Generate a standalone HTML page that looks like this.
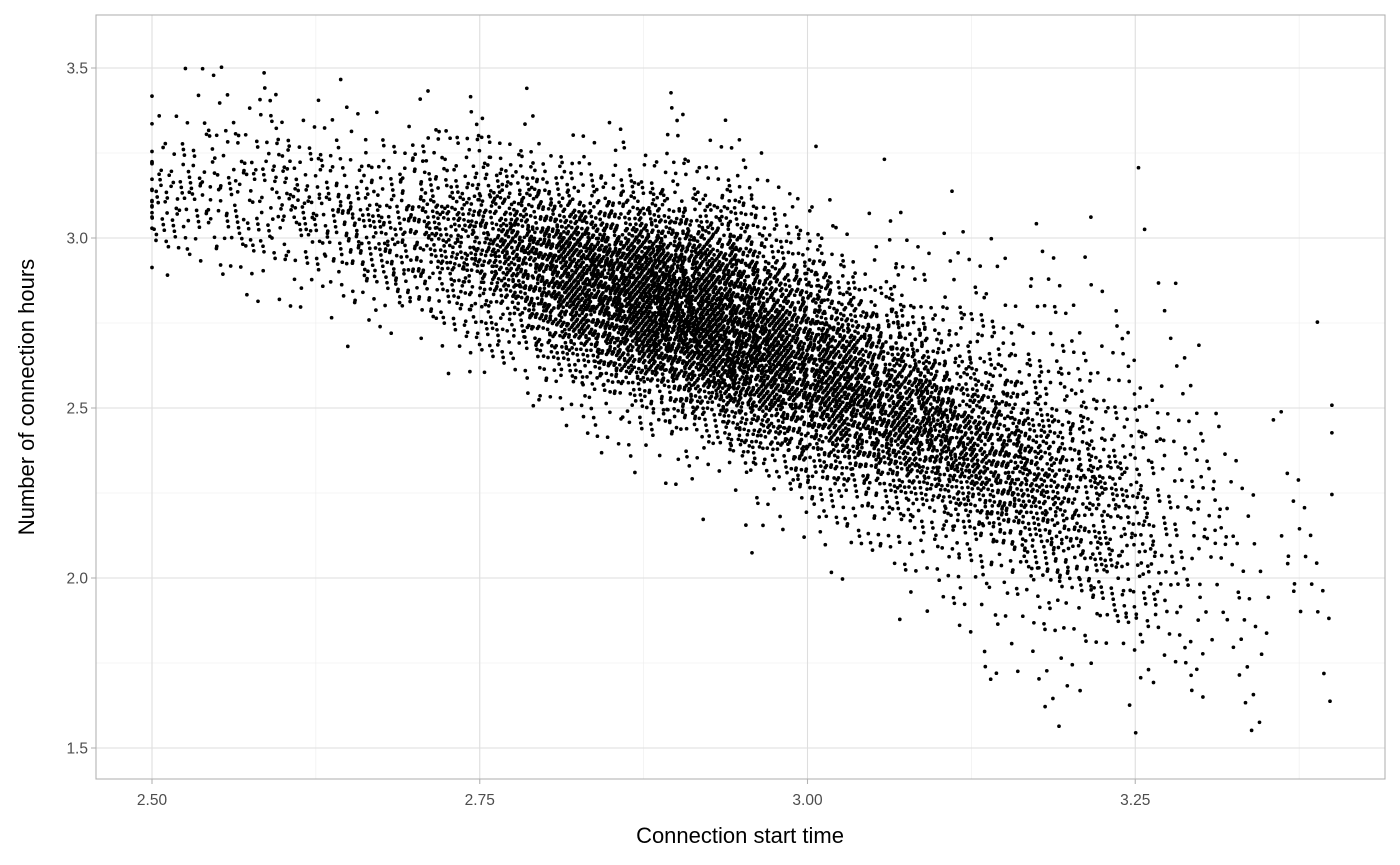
<!DOCTYPE html>
<html><head><meta charset="utf-8"><style>
html,body{margin:0;padding:0;background:#fff;}
svg{display:block;font-family:"Liberation Sans",sans-serif;}
</style></head><body>
<svg id="chart" width="1400" height="865" viewBox="0 0 1400 865" xmlns="http://www.w3.org/2000/svg">
<rect x="96" y="15" width="1289" height="764" fill="#fff"/>
<g id="grid"></g>
<g id="points"></g>
<rect x="96" y="15" width="1289" height="764" fill="none" stroke="#b3b3b3" stroke-width="1.1"/>
<g id="axes"></g>
<text x="740" y="843" text-anchor="middle" font-size="22" fill="#000">Connection start time</text>
<text transform="translate(34,397) rotate(-90)" text-anchor="middle" font-size="22" fill="#000">Number of connection hours</text>
</svg>
<script>
// x-bins of width 0.05 starting at 2.50; y-bins of width 0.1 starting at 1.5
const xBinStart = [2.50,2.55,2.60,2.65,2.70,2.75,2.80,2.85,2.90,2.95,3.00,3.05,3.10,3.15,3.20,3.25,3.30,3.35];
const yStartIdx = [14,13,13,12,11,10,9,8,7,6,5,4,2,1,0,1,0,0];
const binCounts = [
 [8,40,40,22,8,4,1],
 [3,15,35,30,18,7,3],
 [8,25,45,35,18,8,3],
 [5,25,50,60,40,15,5],
 [3,15,45,80,90,50,18,5],
 [3,15,50,110,160,120,55,15,3],
 [5,18,75,190,290,260,130,40,10,3,1],
 [5,18,65,180,330,380,270,110,32,8,2],
 [3,14,50,140,290,380,320,190,70,25,8,2],
 [3,12,38,110,230,290,250,150,65,25,8,3],
 [3,12,36,95,190,240,200,120,45,15,5,2],
 [2,9,24,65,145,200,180,100,42,15,6,3],
 [2,4,8,18,48,100,160,140,90,42,20,8,4,2],
 [3,5,8,17,40,72,110,115,78,42,20,8,4,3,2],
 [2,3,5,12,27,50,62,65,48,25,12,6,3,2,1,1,1],
 [3,6,10,18,22,22,20,15,10,5,3,2,2,1],
 [1,2,3,6,8,8,8,6,4,3,1,1],
 [1,2,2,3,4,3,3,3,3,2,0,0,1]
];
const xTicks = [2.50,2.75,3.00,3.25];
const xTickLabels = ["2.50","2.75","3.00","3.25"];
const yTicks = [1.5,2.0,2.5,3.0,3.5];
const yTickLabels = ["1.5","2.0","2.5","3.0","3.5"];
const xMinor = [2.625,2.875,3.125,3.375];
const yMinor = [1.75,2.25,2.75,3.25];

const NS="http://www.w3.org/2000/svg";
const X0=96,X1=1385,Y0=15,Y1=779;
function sx(v){return 152+(v-2.5)*1311;}
function sy(v){return 748-(v-1.5)*340;}
function el(tag,attrs,parent){const e=document.createElementNS(NS,tag);for(const k in attrs)e.setAttribute(k,attrs[k]);parent.appendChild(e);return e;}

const grid=document.getElementById('grid');
xMinor.forEach(v=>{const l=el('line',{x1:sx(v),x2:sx(v),y1:Y0,y2:Y1,stroke:'#ededed','stroke-width':0.6},grid);

});
yMinor.forEach(v=>{const l=el('line',{x1:X0,x2:X1,y1:sy(v),y2:sy(v),stroke:'#ededed','stroke-width':0.6},grid);

});
xTicks.forEach(v=>{const l=el('line',{x1:sx(v),x2:sx(v),y1:Y0,y2:Y1,stroke:'#dedede','stroke-width':1.1},grid);

});
yTicks.forEach(v=>{const l=el('line',{x1:X0,x2:X1,y1:sy(v),y2:sy(v),stroke:'#dedede','stroke-width':1.1},grid);

});

const axes=document.getElementById('axes');
xTicks.forEach((v,i)=>{
 const t=el('line',{x1:sx(v),x2:sx(v),y1:Y1,y2:Y1+5,stroke:'#b3b3b3','stroke-width':1.1},axes);
 
 
 const tx=el('text',{x:sx(v),y:Y1+26,'text-anchor':'middle','font-size':15.5,fill:'#4d4d4d'},axes);
 tx.textContent=xTickLabels[i];
 
 
});
yTicks.forEach((v,i)=>{
 const t=el('line',{x1:X0-5,x2:X0,y1:sy(v),y2:sy(v),stroke:'#b3b3b3','stroke-width':1.1},axes);
 
 
 const tx=el('text',{x:X0-8,y:sy(v)+5.5,'text-anchor':'end','font-size':15.5,fill:'#4d4d4d'},axes);
 tx.textContent=yTickLabels[i];
 
 
});

const pts=document.getElementById('points');
const a1=0.7548776662,a2=0.5698402910,a3=0.4142135624,a4=0.2360679775;
function fr(v){return v-Math.floor(v);}
binCounts.forEach((col,c)=>{
 col.forEach((n,j)=>{
  const yi=yStartIdx[c]+j;
  const s=fr((c*7+yi*13)*0.3819660);
  for(let k=0;k<n;k++){
   const u=fr(s+(k+1)*a1)+fr(s*1.7+(k+1)*a3)-1;
   const w=fr(s*2.3+(k+1)*a2)+fr(s*3.1+(k+1)*a4)-1;
   let xv=xBinStart[c]+0.025+u*0.05;
   let yv=1.5+(yi+0.5)*0.1+w*0.1;
   xv=Math.min(3.40,Math.max(2.50,xv));
   const p=el('circle',{cx:sx(xv).toFixed(1),cy:sy(yv).toFixed(1),r:1.85,fill:'#000'},pts);
   
   
  }
 });
});
</script>
</body></html>
